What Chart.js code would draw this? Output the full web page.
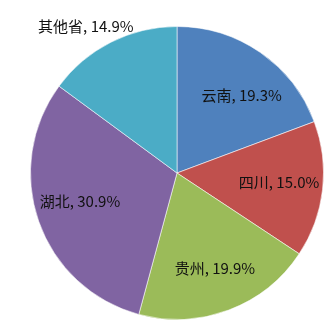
<!DOCTYPE html>
<html>
<head>
<meta charset="utf-8">
<script src="https://cdn.jsdelivr.net/npm/chart.js@4"></script>
<style>
  html, body { margin: 0; padding: 0; background: #fff; }
</style>
</head>
<body>
<canvas id="myChart" width="334" height="334"></canvas>
<script>
const provinces = ['云南', '四川', '贵州', '湖北', '其他省'];
const shares = [19.3, 15.0, 19.9, 30.9, 14.9];
const sliceColors = ['#4F81BD', '#C0504D', '#9BBB59', '#8064A2', '#4BACC6'];

// label placement, as fraction of the radius (Excel "best fit" put the last one outside)
const labelRadius = [0.69, 0.70, 0.70, 0.69, 1.18];
const labelAngleShift = [5, -1, -1, 3, -5];

const sliceLabels = {
    id: 'sliceLabels',
    afterDatasetsDraw(chart) {
        const ctx = chart.ctx;
        const meta = chart.getDatasetMeta(0);
        ctx.save();
        ctx.font = '15px "Noto Sans CJK SC", "Noto Sans", sans-serif';
        ctx.fillStyle = '#111';
        ctx.textAlign = 'center';
        ctx.textBaseline = 'middle';
        meta.data.forEach((arc, i) => {
            const p = arc.getProps(['x', 'y', 'startAngle', 'endAngle', 'outerRadius']);
            const mid = (p.startAngle + p.endAngle) / 2 + labelAngleShift[i] * Math.PI / 180;
            const r = p.outerRadius * labelRadius[i];
            const x = p.x + Math.cos(mid) * r;
            const y = p.y + Math.sin(mid) * r;
            ctx.fillText(provinces[i] + ', ' + shares[i].toFixed(1) + '%', x, y);
        });
        ctx.restore();
    }
};

const data = {
    labels: provinces,
    datasets: [{
        data: shares,
        backgroundColor: sliceColors,
        borderColor: 'rgba(255,255,255,0.55)',
        borderWidth: 1
    }]
};

const config = {
    type: 'pie',
    data,
    options: {
        responsive: false,
        animation: false,
        layout: {
            padding: { left: 30, right: 10, top: 26, bottom: 14 }
        },
        plugins: {
            legend: { display: false },
            tooltip: { enabled: false }
        }
    },
    plugins: [sliceLabels]
};

const myChart = new Chart(document.getElementById('myChart'), config);
</script>
</body>
</html>
